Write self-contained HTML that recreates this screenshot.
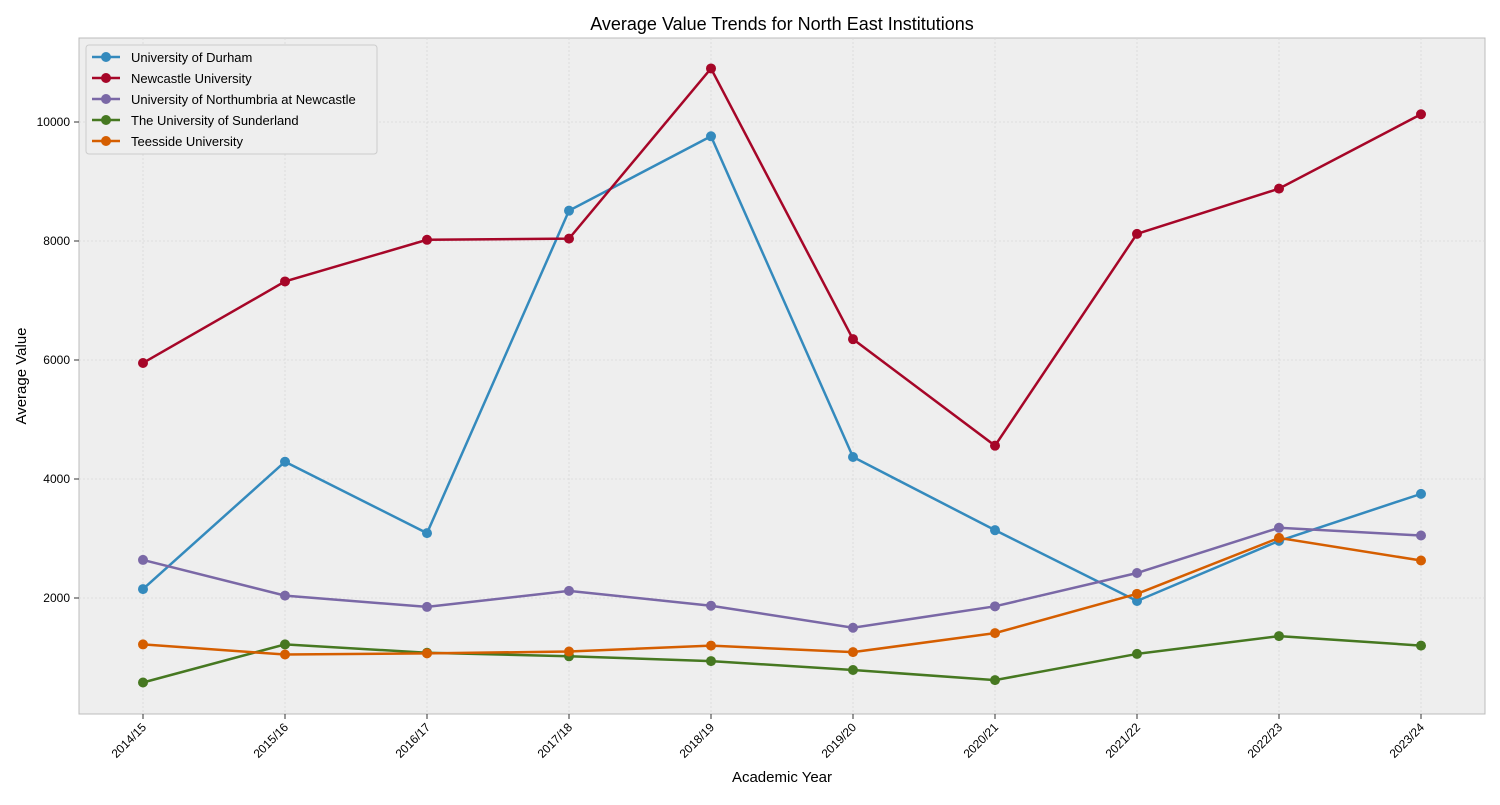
<!DOCTYPE html>
<html><head><meta charset="utf-8"><style>
body{margin:0;background:#fff;font-family:"Liberation Sans",sans-serif;}
svg text{font-family:"Liberation Sans",sans-serif;}
</style></head><body>
<svg id="chart" width="1500" height="800" xmlns="http://www.w3.org/2000/svg">
<rect x="0" y="0" width="1500" height="800" fill="#fff"/>
<rect x="79" y="38" width="1406" height="676" fill="#eeeeee" stroke="#bcbcbc"/>
<g id="grid"></g><g id="axes"></g><g id="series"></g>
<text x="782" y="30" text-anchor="middle" font-size="18">Average Value Trends for North East Institutions</text>
<text x="782" y="782" text-anchor="middle" font-size="15">Academic Year</text>
<text transform="translate(26,376) rotate(-90)" text-anchor="middle" font-size="15">Average Value</text>
<g id="legend"></g>
</svg>
<script>
const categories=["2014/15","2015/16","2016/17","2017/18","2018/19","2019/20","2020/21","2021/22","2022/23","2023/24"];
const seriesNames=["University of Durham","Newcastle University","University of Northumbria at Newcastle","The University of Sunderland","Teesside University"];
const durham=[2150,4290,3090,8510,9760,4370,3140,1950,2960,3750];
const newcastle=[5950,7320,8020,8040,10900,6350,4560,8120,8880,10130];
const northumbria=[2640,2040,1850,2120,1870,1500,1860,2420,3180,3050];
const sunderland=[580,1220,1080,1020,940,790,620,1060,1360,1200];
const teesside=[1220,1050,1070,1100,1200,1090,1410,2070,3010,2630];
const yTicks=[2000,4000,6000,8000,10000];
const colors=["#348ABD","#A60628","#7A68A6","#467821","#D55E00"];
const allSeries=[durham,newcastle,northumbria,sunderland,teesside];
const NS="http://www.w3.org/2000/svg";
function xs(i){return 143+i*(1421-143)/(categories.length-1);}
function ys(v){return 717-v*0.0595;}
function mk(tag,attrs,parent){const e=document.createElementNS(NS,tag);for(const k in attrs)e.setAttribute(k,attrs[k]);parent.appendChild(e);return e;}
const grid=document.getElementById('grid'),axes=document.getElementById('axes'),ser=document.getElementById('series'),leg=document.getElementById('legend');
categories.forEach((c,i)=>{
 const x=xs(i);
 const g=mk('line',{x1:x,x2:x,y1:38,y2:714,stroke:'#d8d8d8','stroke-dasharray':'2,2','stroke-width':0.8},grid);
 
 
 const t=mk('line',{x1:x,x2:x,y1:714,y2:719,stroke:'#333'},axes);
 
 
 const l=mk('text',{x:0,y:0,'font-size':12,'text-anchor':'end',transform:`translate(${x+4},${728}) rotate(-45)`},axes);
 l.textContent=c;
 
 
});
yTicks.forEach(v=>{
 const y=ys(v);
 const g=mk('line',{x1:79,x2:1485,y1:y,y2:y,stroke:'#d8d8d8','stroke-dasharray':'2,2','stroke-width':0.8},grid);
 
 
 const t=mk('line',{x1:74,x2:79,y1:y,y2:y,stroke:'#333'},axes);
 
 
 const l=mk('text',{x:70,y:y+4,'font-size':12,'text-anchor':'end'},axes);
 l.textContent=v;
 
 
});
allSeries.forEach((d,s)=>{
 const g=mk('g',{},ser);
 
 
 const p=mk('polyline',{points:d.map((v,i)=>xs(i)+','+ys(v)).join(' '),fill:'none',stroke:colors[s],'stroke-width':2.5},g);
 
 
 d.forEach((v,i)=>{
  const c=mk('circle',{cx:xs(i),cy:ys(v),r:5,fill:colors[s]},g);
  
  
 });
});
const box=mk('rect',{x:86,y:45,width:291,height:109,fill:'#eeeeee',stroke:'#cccccc',rx:3},leg);


seriesNames.forEach((n,s)=>{
 const y=57+s*21;
 const g=mk('g',{},leg);
 
 
 mk('line',{x1:92,x2:120,y1:y,y2:y,stroke:colors[s],'stroke-width':2.5},g);
 mk('circle',{cx:106,cy:y,r:5,fill:colors[s]},g);
 const t=mk('text',{x:131,y:y+5,'font-size':13},g);
 t.textContent=n;
});
</script>
</body></html>
